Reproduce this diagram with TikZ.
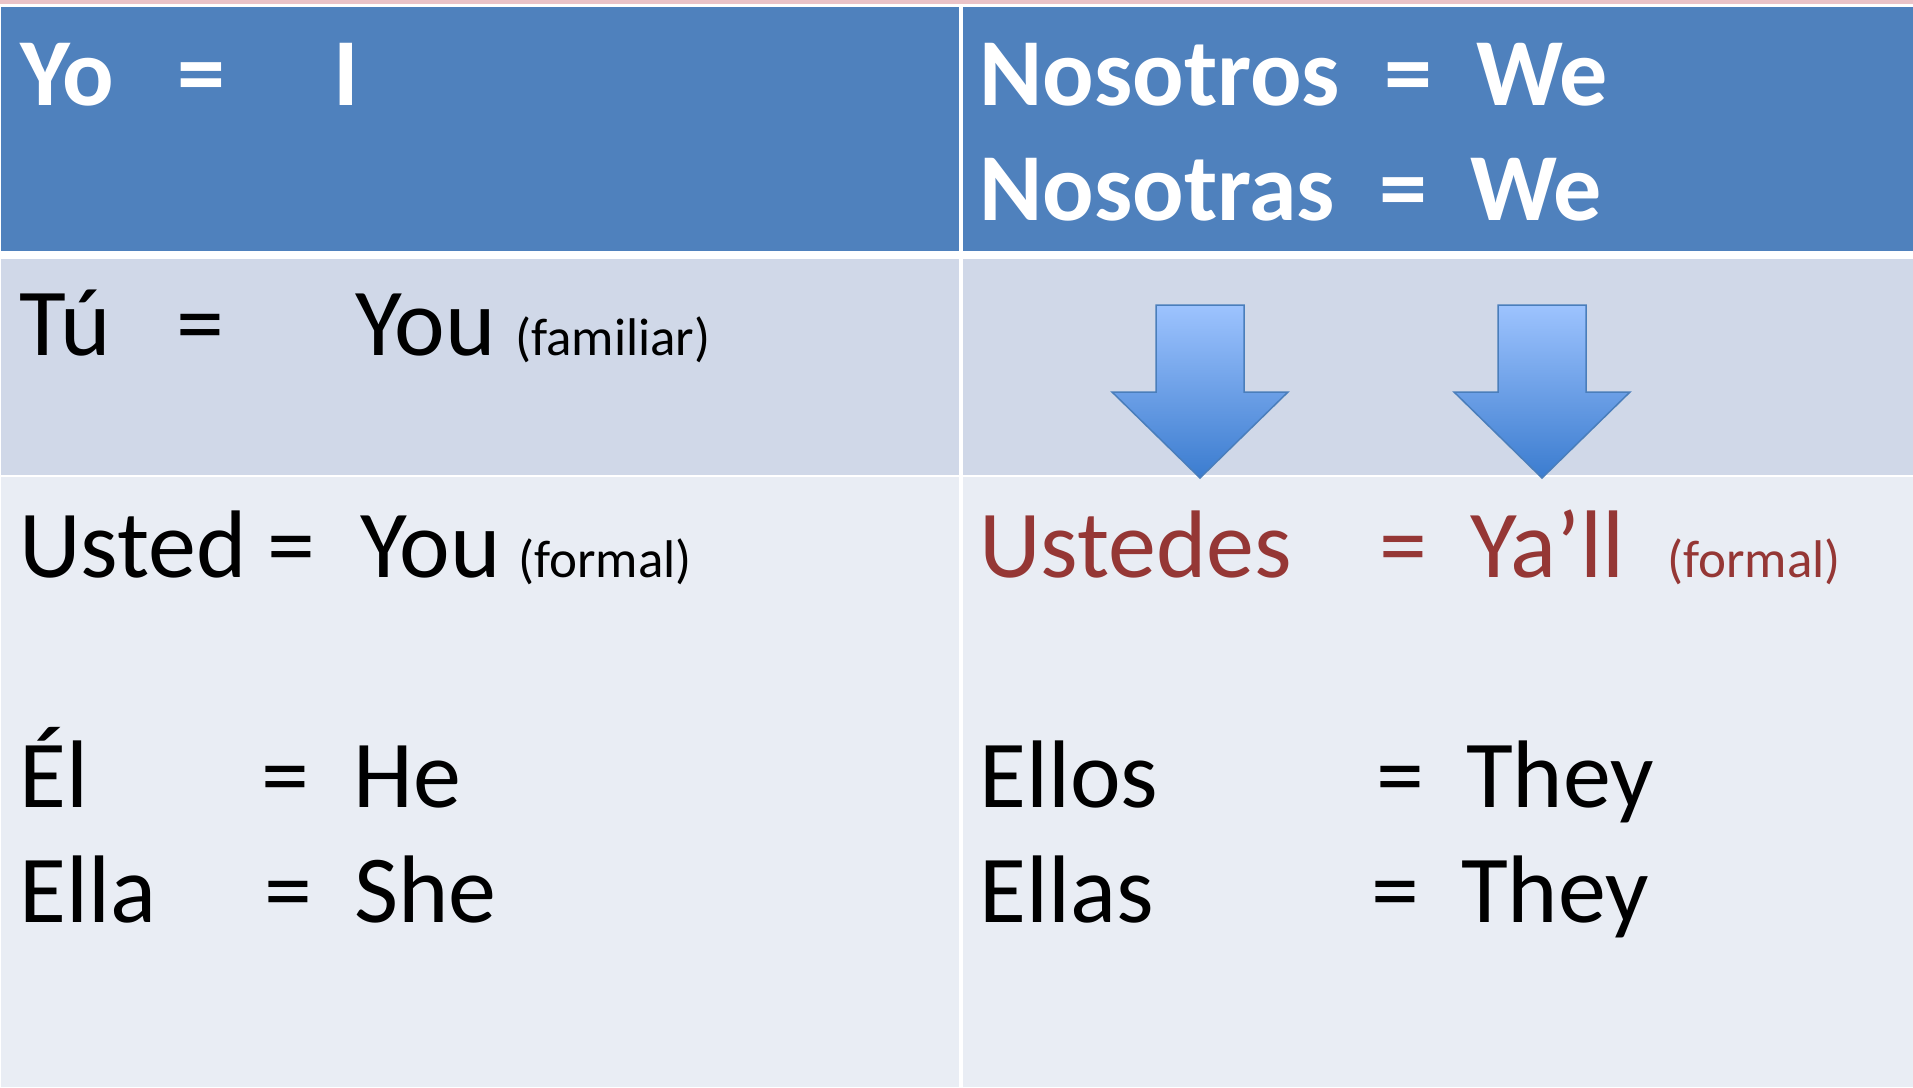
\documentclass[tikz,border=0pt]{standalone}
\usepackage{fontspec}
\setmainfont{Carlito}
\definecolor{hdrblue}{HTML}{4F81BD}
\definecolor{rowmid}{HTML}{D0D8E8}
\definecolor{rowlow}{HTML}{E9EDF4}
\definecolor{ustedred}{HTML}{953735}
\definecolor{arrtop}{HTML}{9DC3FE}
\definecolor{arrbot}{HTML}{3B7CCF}
\definecolor{arredge}{HTML}{4A7EBB}
\definecolor{strippink}{HTML}{EAC3C8}

\begin{document}
\begin{tikzpicture}[x=1pt,y=-1pt,
  word/.style={anchor=base west,inner sep=0pt,font=\fontsize{96}{100}\selectfont},
  hdr/.style={word,text=white,font=\fontsize{96}{100}\selectfont\bfseries},
  note/.style={anchor=base west,inner sep=0pt,font=\fontsize{53}{60}\selectfont},
  plural/.style={text=ustedred},
  downarrow/.style={top color=arrtop,bottom color=arrbot,draw=arredge,line width=1.5pt}]
\useasboundingbox (0,0) rectangle (1913,1087);
% cells
\fill[strippink] (0,0) rectangle (1913,4);
\fill[hdrblue] (1,7) rectangle (959,251);
\fill[hdrblue] (963,7) rectangle (1913,251);
\fill[rowmid] (1,259) rectangle (959,475);
\fill[rowmid] (963,259) rectangle (1913,475);
\fill[rowlow] (1,477) rectangle (959,1087);
\fill[rowlow] (963,477) rectangle (1913,1087);
% header
\node[hdr] (yo) at (20,105) {Yo};
\node[hdr] (yoeq) at (177,105) {=};
\node[hdr] (yoen) at (333,105) {I};
\node[hdr] (nosotros) at (979,105) {Nosotros};
\node[hdr] (nosotroseq) at (1384,105) {=};
\node[hdr] (nosotrosen) at (1476,105) {We};
\node[hdr] (nosotras) at (979,220) {Nosotras};
\node[hdr] (nosotraseq) at (1379,220) {=};
\node[hdr] (nosotrasen) at (1470,220) {We};
% tu row
\node[word] (tu) at (19,355) {Tú};
\node[word] (tueq) at (176,355) {=};
\node[word] (tuen) at (355,355) {You};
\node[note] (tunote) at (515,355) {(familiar)};
\foreach \ax in {1200,1542}
  \shade[downarrow] (\ax-44,305) -- (\ax+44,305) -- (\ax+44,392) -- (\ax+88,392)
    -- (\ax,478) -- (\ax-88,392) -- (\ax-44,392) -- cycle;
% usted row
\node[word] (usted) at (19,577) {Usted};
\node[word] (ustedeq) at (267,577) {=};
\node[word] (ustedeng) at (360,577) {You};
\node[note] (ustednote) at (518,577) {(formal)};
\node[word,plural] (ustedes) at (979,577) {Ustedes};
\node[word,plural] (ustedeseq) at (1379,577) {=};
\node[word,plural] (ustedesen) at (1470,577) {Ya’ll};
\node[note,plural] (ustedesnote) at (1667,577) {(formal)};
% third person
\node[word] (el) at (19,807) {Él};
\node[word] (eleq) at (261,807) {=};
\node[word] (elen) at (353,807) {He};
\node[word] (ella) at (19,922) {Ella};
\node[word] (ellaeq) at (264,922) {=};
\node[word] (ellaen) at (354,922) {She};
\node[word] (ellos) at (979,807) {Ellos};
\node[word] (elloseq) at (1376,807) {=};
\node[word] (ellosen) at (1466,807) {They};
\node[word] (ellas) at (979,922) {Ellas};
\node[word] (ellaseq) at (1371,922) {=};
\node[word] (ellasen) at (1461,922) {They};
\end{tikzpicture}
\end{document}
